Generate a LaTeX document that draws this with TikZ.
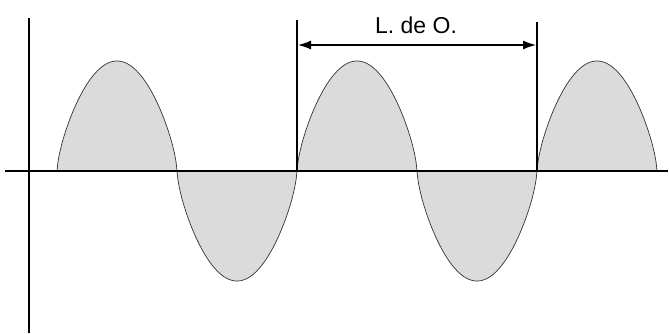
\documentclass[tikz,border=0pt]{standalone}
\usepackage{fontspec}
\setmainfont{Liberation Sans}
\usetikzlibrary{arrows.meta}
\begin{document}
\begin{tikzpicture}[x=1pt,y=-1pt,
  axis/.style={line width=1.3pt,black},
  wavefill/.style={fill=gray!28},
  waveline/.style={line width=0.7pt,black!80},
  marker/.style={line width=1.1pt,black},
  dim/.style={line width=1.3pt,{Latex[length=13pt,width=9pt]}-{Latex[length=13pt,width=9pt]}},
  lbl/.style={font=\fontsize{23}{26}\selectfont,inner sep=0pt}]
\useasboundingbox (0,0) rectangle (669,333);
% wave: five half-waves with rounded humps
\foreach \k/\s in {0/1,1/-1,2/1,3/-1,4/1}{
  \fill[wavefill] (57+120*\k,171) -- plot[domain=0:180,samples=121,smooth]
    ({57+120*\k+\x*2/3},{171-\s*110*pow(abs(sin(\x))+0.0001,0.68)}) -- cycle;
  \draw[waveline] plot[domain=0:180,samples=121,smooth]
    ({57+120*\k+\x*2/3},{171-\s*110*pow(abs(sin(\x))+0.0001,0.68)});
}
% axes
\coordinate (xa) at (5,171);
\coordinate (xb) at (668,171);
\coordinate (ya) at (29,18);
\coordinate (yb) at (29,333);
\draw[axis] (xa) -- (xb);
\draw[axis] (ya) -- (yb);
% wavelength markers
\coordinate (m1t) at (297,20);
\coordinate (m1b) at (297,171);
\coordinate (m2t) at (537,22);
\coordinate (m2b) at (537,171);
\draw[marker] (m1t) -- (m1b);
\draw[marker] (m2t) -- (m2b);
\coordinate (al) at (298,45);
\coordinate (ar) at (536,45);
\draw[dim] (al) -- (ar);
\node[lbl] (lab) at (416,25) {L. de O.};
\end{tikzpicture}
\end{document}
